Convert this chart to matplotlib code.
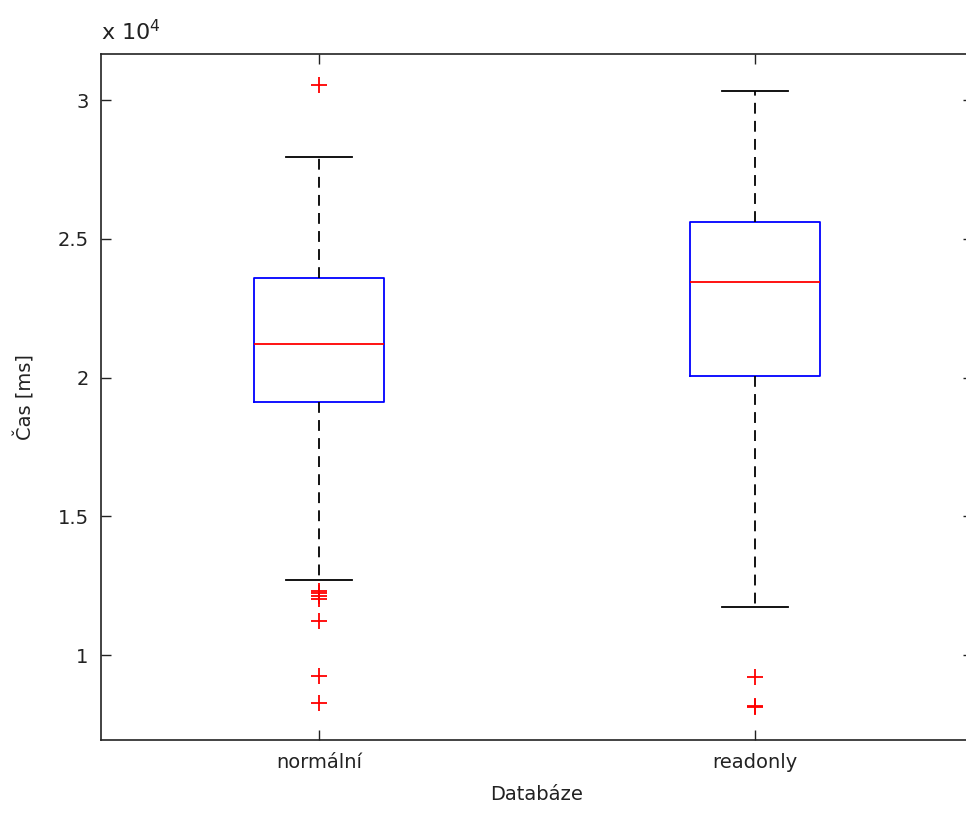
import numpy as np
import matplotlib
matplotlib.use('Agg')
import matplotlib.pyplot as plt

plt.rcParams['font.family'] = ['DejaVu Sans']

# query times in ms for both database modes
groups = ['normální', 'readonly']
q1 = [19135, 20070]
median = [21225, 23460]
q3 = [23600, 25620]
whisker_low = [12720, 11720]
whisker_high = [27950, 30320]
outliers = [
    [30540, 12320, 12250, 12120, 12010, 11220, 9240, 8270],
    [9210, 8180, 8120],
]
scale = 1e4

stats = []
for i in range(len(groups)):
    stats.append({
        'med': median[i] / scale,
        'q1': q1[i] / scale,
        'q3': q3[i] / scale,
        'whislo': whisker_low[i] / scale,
        'whishi': whisker_high[i] / scale,
        'fliers': np.array(outliers[i]) / scale,
        'label': groups[i],
    })

fig = plt.figure(figsize=(9.66, 8.14), dpi=100)
ax = fig.add_axes([101 / 966, 74 / 814, 872 / 966, 686 / 814])

ax.bxp(stats, positions=[1, 2], widths=0.3, patch_artist=False,
       boxprops=dict(color='#0000ff', linewidth=1.3),
       medianprops=dict(color='#ff0000', linewidth=1.3),
       whiskerprops=dict(color='black', linewidth=1.3, linestyle=(0, (6, 4))),
       capprops=dict(color='black', linewidth=1.3),
       capwidths=0.15,
       flierprops=dict(marker='+', markeredgecolor='#ff0000', markersize=12,
                       markeredgewidth=1.3, linestyle='none'))

ax.set_xlim(0.5, 2.5)
ax.set_ylim(0.694, 3.166)
ax.set_yticks([1, 1.5, 2, 2.5, 3])
ax.set_yticklabels(['1', '1.5', '2', '2.5', '3'])
ax.set_xticks([1, 2])
ax.set_xticklabels(groups)
ax.tick_params(direction='in', length=7, width=1, labelsize=14, pad=9,
               right=True, top=True, colors='#222222', labelcolor='#222222')
for s in ax.spines.values():
    s.set_linewidth(1.2)
    s.set_color('#222222')

ax.set_xlabel('Databáze', fontsize=14, color='#222222', labelpad=10)
ax.set_ylabel('Čas [ms]', fontsize=14, color='#222222', labelpad=16)
ax.text(0.0, 1.015, r'x 10$^4$', transform=ax.transAxes, fontsize=16,
        color='#222222', ha='left', va='bottom')

fig.savefig('out.png', dpi=100)
